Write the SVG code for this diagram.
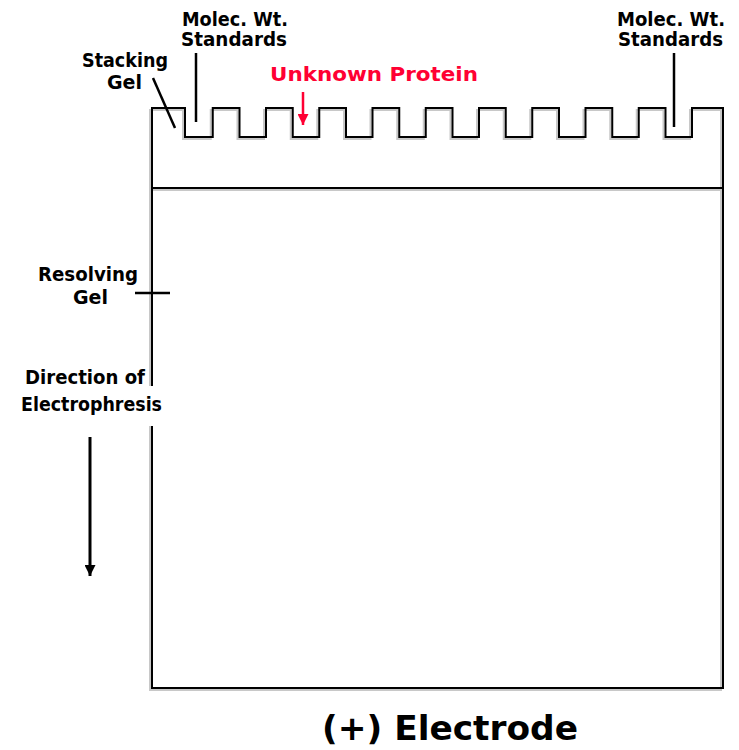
<svg xmlns="http://www.w3.org/2000/svg" width="739" height="750" viewBox="0 0 739 750">
<style>
text{font-family:"DejaVu Sans","Liberation Sans",sans-serif;font-weight:bold;font-size:19px;fill:#000}
.red{fill:#ff0033}
.big{font-size:34px}
.gel{fill:none;stroke:#000;stroke-width:2}
.shadow{fill:none;stroke:#c8c8c8;stroke-width:2}
.lead{stroke:#000;stroke-width:2.5;fill:none}
</style>
<defs>
<marker id="ah" viewBox="0 0 10 10" refX="10" refY="5" markerWidth="11" markerHeight="11" markerUnits="userSpaceOnUse" orient="auto"><path d="M0,0 L10,5 L0,10 Z" fill="#000"/></marker>
<marker id="ahr" viewBox="0 0 10 10" refX="10" refY="5" markerWidth="11" markerHeight="11" markerUnits="userSpaceOnUse" orient="auto"><path d="M0,0 L10,5 L0,10 Z" fill="#ff0033"/></marker>
</defs>
<rect width="739" height="750" fill="#fff"/>
<g id="gel">
<path class="shadow" transform="translate(-2,2)" d="M152,108 H185 V137 H212.75 V108 H239.5 V137 H266 V108 H292.75 V137 H319.25 V108 H346 V137 H372.5 V108 H399.25 V137 H425.75 V108 H452.5 V137 H479 V108 H505.75 V137 H532.25 V108 H559 V137 H585.5 V108 H612.25 V137 H638.75 V108 H665.5 V137 H692 V108 H723 V688 H152 Z M152,188 H723"/>
<path class="gel" d="M152,108 H185 V137 H212.75 V108 H239.5 V137 H266 V108 H292.75 V137 H319.25 V108 H346 V137 H372.5 V108 H399.25 V137 H425.75 V108 H452.5 V137 H479 V108 H505.75 V137 H532.25 V108 H559 V137 H585.5 V108 H612.25 V137 H638.75 V108 H665.5 V137 H692 V108 H723 V688 H152 Z M152,188 H723"/>
</g>
<g id="connectors">
<line class="lead" x1="153" y1="78" x2="175" y2="128"/>
<line class="lead" x1="196" y1="53" x2="196" y2="122"/>
<line class="lead" x1="674" y1="53" x2="674" y2="127"/>
<line x1="303" y1="92" x2="303" y2="125" stroke="#ff0033" stroke-width="2.5" marker-end="url(#ahr)"/>
<line class="lead" x1="135" y1="293" x2="170" y2="293"/>
<line x1="90" y1="437" x2="90" y2="576" stroke="#000" stroke-width="3" marker-end="url(#ah)"/>
</g>
<g id="label-molec-left">
<text x="182" y="26" textLength="106" lengthAdjust="spacingAndGlyphs">Molec. Wt.</text>
<text x="181" y="46" textLength="106" lengthAdjust="spacingAndGlyphs">Standards</text>
</g>
<g id="label-molec-right">
<text x="617" y="26" textLength="108" lengthAdjust="spacingAndGlyphs">Molec. Wt.</text>
<text x="618" y="46" textLength="105" lengthAdjust="spacingAndGlyphs">Standards</text>
</g>
<g id="label-stacking">
<text x="82" y="67" textLength="86" lengthAdjust="spacingAndGlyphs">Stacking</text>
<text x="107" y="89" textLength="35" lengthAdjust="spacingAndGlyphs">Gel</text>
</g>
<g id="label-unknown">
<text class="red" x="270" y="81" textLength="208" lengthAdjust="spacingAndGlyphs">Unknown Protein</text>
</g>
<g id="label-resolving">
<text x="38" y="281" textLength="100" lengthAdjust="spacingAndGlyphs">Resolving</text>
<text x="73" y="304" textLength="35" lengthAdjust="spacingAndGlyphs">Gel</text>
</g>
<g id="label-direction">
<rect x="140" y="386" width="26" height="40" fill="#fff"/>
<text x="25" y="384" textLength="120" lengthAdjust="spacingAndGlyphs">Direction of</text>
<text x="21" y="411" textLength="141" lengthAdjust="spacingAndGlyphs">Electrophresis</text>
</g>
<g id="label-electrode">
<text class="big" x="322" y="740" textLength="256" lengthAdjust="spacingAndGlyphs">(+) Electrode</text>
</g>
</svg>
